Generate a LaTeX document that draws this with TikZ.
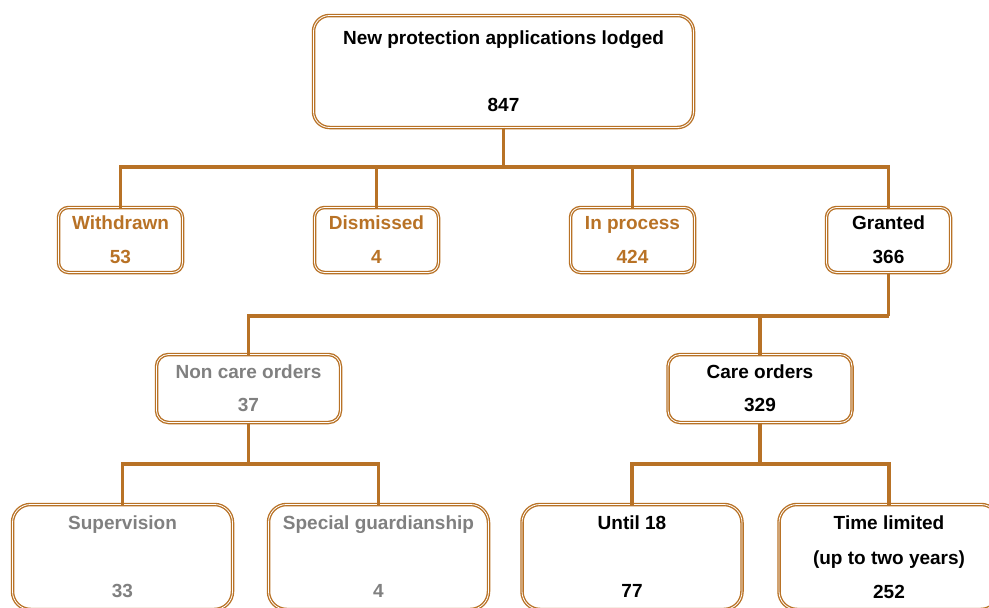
\documentclass[tikz,border=0pt]{standalone}
\usepackage{fontspec}
\setmainfont{Liberation Sans}
\usetikzlibrary{positioning}
\definecolor{copper}{RGB}{184,114,38}
\definecolor{greytext}{RGB}{128,128,128}

\begin{document}
\begin{tikzpicture}[x=1pt, y=-1pt, node distance=132pt and 132pt,
		box/.style={draw=copper, line width=1.35pt, double=white, double distance=0.8pt, align=center, inner sep=0pt, outer sep=0pt, font=\fontsize{19}{22}\selectfont\bfseries},
		topbox/.style={box, rounded corners=16pt, minimum width=380pt, minimum height=112pt},
		smallbox/.style={box, rounded corners=10pt, minimum width=124pt, minimum height=65pt},
		midbox/.style={box, rounded corners=12pt, minimum width=184pt, minimum height=68pt},
		lowbox/.style={box, rounded corners=18pt, minimum width=220pt, minimum height=105pt},
		conn/.style={draw=copper, line width=3.2pt}]
		
		\useasboundingbox (0,0) rectangle (989,608);
		\clip (0,0) rectangle (989,608);
		
		\node[topbox] (lodged) at (503.5,71.5) {New protection applications lodged\\[45pt]847};
		
		\node[smallbox, text=copper] (withdrawn) at (120.5,240) {Withdrawn\\[12pt]53};
		\node[smallbox, text=copper, right=of withdrawn] (dismissed) {Dismissed\\[12pt]4};
		\node[smallbox, text=copper, right=of dismissed] (inprocess) {In process\\[12pt]424};
		\node[smallbox, right=of inprocess] (granted) {Granted\\[12pt]366};
		
		\node[midbox, text=greytext] (noncare) at (248.5,388.5) {Non care orders\\[11pt]37};
		\node[midbox] (care) at (760,388.5) {Care orders\\[11pt]329};
		
		\node[lowbox, text=greytext] (supervision) at (122.5,557) {Supervision\\[46pt]33};
		\node[lowbox, text=greytext, right=36pt of supervision] (guardian) {Special guardianship\\[46pt]4};
		\node[lowbox] (until) at (632,557) {Until 18\\[46pt]77};
		\node[lowbox, right=37pt of until] (timelimited) {Time limited\\[13pt](up to two years)\\[12pt]252};
		
		\draw[conn] (lodged.south) -- ++(0,39.5) coordinate (busone);
		\draw[conn] (withdrawn.north) |- (busone);
		\draw[conn] (dismissed.north) |- (busone);
		\draw[conn] (inprocess.north) |- (busone);
		\draw[conn] (granted.north) |- (busone);
		
		\draw[conn] (granted.south) -- ++(0,43.5) coordinate (bustwo);
		\draw[conn] (noncare.north) |- (bustwo);
		\draw[conn] (care.north) |- (bustwo);
		
		\draw[conn] (noncare.south) -- ++(0,41.5) coordinate (busthree);
		\draw[conn] (supervision.north) |- (busthree);
		\draw[conn] (guardian.north) |- (busthree);
		
		\draw[conn] (care.south) -- ++(0,41.5) coordinate (busfour);
		\draw[conn] (until.north) |- (busfour);
		\draw[conn] (timelimited.north) |- (busfour);
	\end{tikzpicture}
\end{document}
